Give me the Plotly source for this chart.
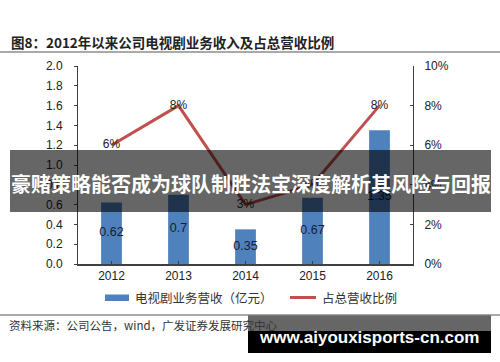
import plotly.graph_objects as go

# ---- data ----
years = ["2012", "2013", "2014", "2015", "2016"]
revenue = [0.62, 0.70, 0.35, 0.67, 1.35]          # 亿元
ratio = [0.06, 0.08, 0.03, 0.04, 0.08]            # 占总营收比例
left_ticks = [0.0, 0.2, 0.4, 0.6, 0.8, 1.0, 1.2, 1.4, 1.6, 1.8, 2.0]
right_ticks = [0.0, 0.02, 0.04, 0.06, 0.08, 0.10]

title_text = "图8：2012年以来公司电视剧业务收入及占总营收比例"
legend_bar = "电视剧业务营收（亿元）"
legend_line = "占总营收比例"
source_text = "资料来源：公司公告，wind，广发证券发展研究中心"
banner_text = "豪赌策略能否成为球队制胜法宝深度解析其风险与回报"
watermark_text = "www.aiyouxisports-cn.com"

W, H = 500, 362
L, R, T, B = 78, 413, 66, 264   # plot area pixels


def px(x):
    return (x - L) / (R - L)


def py(y):
    return (B - y) / (B - T)


BLUE = "#4F81BD"
RED = "#C0504D"
FONT = "Liberation Sans, Arial, Noto Sans CJK SC"
CJK = "Noto Sans CJK SC"

fig = go.Figure()
fig.add_trace(go.Bar(x=years, y=revenue, width=0.31, marker=dict(color=BLUE, line=dict(width=0)),
                     hoverinfo="skip"))
fig.add_trace(go.Scatter(x=years, y=[v / 2 for v in revenue], mode="text",
                         text=[f"{v:g}" for v in revenue],
                         textfont=dict(size=12.5, color="#161c30", family=FONT),
                         cliponaxis=False, hoverinfo="skip"))
fig.add_trace(go.Scatter(x=years, y=ratio, yaxis="y2", mode="lines+text",
                         line=dict(color=RED, width=3),
                         text=[f"{round(v * 100)}%" for v in ratio],
                         textposition="middle center",
                         textfont=dict(size=12, color="#222222", family=FONT),
                         cliponaxis=False, hoverinfo="skip"))

shapes = []
annotations = []

# title + rule
annotations.append(dict(xref="paper", yref="paper", x=px(9), y=py(42), xanchor="left", yanchor="middle",
                        text="<b>" + title_text + "</b>", showarrow=False,
                        font=dict(size=13.5, color="#222222", family=CJK)))
shapes.append(dict(type="line", xref="paper", yref="paper", x0=px(0), x1=px(500), y0=py(52), y1=py(52),
                   line=dict(color="#8c8c8c", width=1.5)))

# legend
shapes.append(dict(type="rect", xref="paper", yref="paper", x0=px(105), x1=px(129), y0=py(294.5), y1=py(301),
                   fillcolor=BLUE, line=dict(width=0)))
annotations.append(dict(xref="paper", yref="paper", x=px(133), y=py(297.5), xanchor="left", yanchor="middle",
                        text=legend_bar, showarrow=False, font=dict(size=12.5, color="#333333", family=CJK)))
shapes.append(dict(type="line", xref="paper", yref="paper", x0=px(290), x1=px(316), y0=py(297.5), y1=py(297.5),
                   line=dict(color=RED, width=3)))
annotations.append(dict(xref="paper", yref="paper", x=px(320), y=py(297.5), xanchor="left", yanchor="middle",
                        text=legend_line, showarrow=False, font=dict(size=12.5, color="#333333", family=CJK)))

# source rule + text
shapes.append(dict(type="line", xref="paper", yref="paper", x0=px(0), x1=px(500), y0=py(315), y1=py(315),
                   line=dict(color="#8c8c8c", width=1.5)))
annotations.append(dict(xref="paper", yref="paper", x=px(7), y=py(324.5), xanchor="left", yanchor="middle",
                        text=source_text, showarrow=False, font=dict(size=11.5, color="#333333", family=CJK)))

# banner overlay
shapes.append(dict(type="rect", xref="paper", yref="paper", x0=px(10), x1=px(491), y0=py(150), y1=py(212),
                   fillcolor="rgba(0,0,0,0.6)", line=dict(width=0), layer="above"))
annotations.append(dict(xref="paper", yref="paper", x=px(250.5), y=py(183), xanchor="center", yanchor="middle",
                        text="<b>" + banner_text + "</b>", showarrow=False,
                        font=dict(size=20, color="white", family=CJK)))

# watermark box
shapes.append(dict(type="rect", xref="paper", yref="paper", x0=px(248), x1=px(491), y0=py(315.5), y1=py(331),
                   fillcolor="rgba(0,0,0,0.6)", line=dict(width=0), layer="above"))
shapes.append(dict(type="rect", xref="paper", yref="paper", x0=px(248), x1=px(491), y0=py(331), y1=py(353),
                   fillcolor="black", line=dict(width=0), layer="above"))
annotations.append(dict(xref="paper", yref="paper", x=px(369), y=py(337), xanchor="center", yanchor="middle",
                        text="<b>" + watermark_text + "</b>", showarrow=False,
                        font=dict(size=17, color="white", family=FONT)))

fig.update_layout(
    width=W, height=H,
    margin=dict(l=L, r=W - R, t=T, b=H - B, pad=0),
    paper_bgcolor="white", plot_bgcolor="white",
    showlegend=False,
    font=dict(family=FONT, size=12, color="#222222"),
    xaxis=dict(type="category", range=[-0.5, 4.5], showgrid=False, zeroline=False,
               showline=True, linecolor="#404040", linewidth=1.5,
               ticks="inside", ticklen=3, tickcolor="#404040",
               tickfont=dict(size=12, color="#222222")),
    yaxis=dict(range=[0, 2.0], tickvals=left_ticks, ticktext=[f"{v:.1f}" for v in left_ticks],
               showgrid=False, zeroline=False, showline=True, linecolor="#404040", linewidth=1,
               ticks="outside", ticklen=3, tickcolor="#404040", ticklabelstandoff=9,
               tickfont=dict(size=12, color="#222222")),
    yaxis2=dict(range=[0, 0.10], overlaying="y", side="right",
                tickvals=right_ticks, ticktext=[f"{round(v * 100)}%" for v in right_ticks],
                showgrid=False, zeroline=False, showline=True, linecolor="#404040", linewidth=1,
                ticks="inside", ticklen=3, tickcolor="#404040", ticklabelstandoff=8,
                tickfont=dict(size=12, color="#222222")),
    shapes=shapes,
    annotations=annotations,
)

fig.write_html("out.html")
